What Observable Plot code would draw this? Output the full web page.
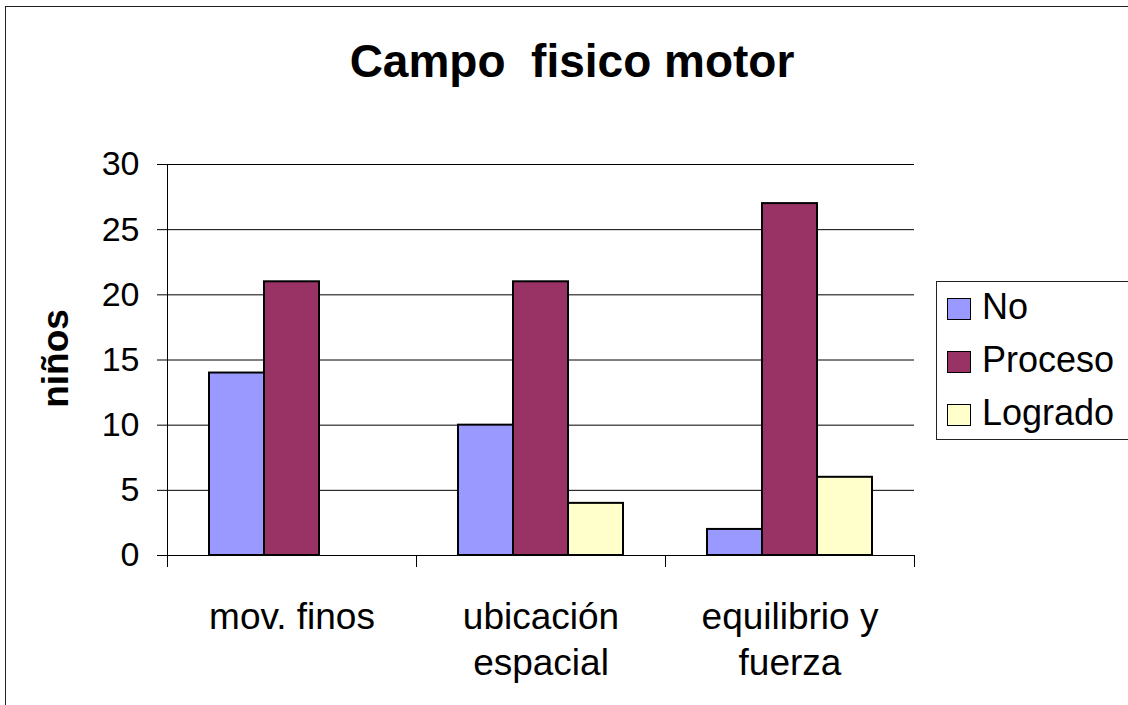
<!DOCTYPE html>
<html>
<head>
<meta charset="utf-8">
<script src="https://cdn.jsdelivr.net/npm/d3@7"></script>
<script src="https://cdn.jsdelivr.net/npm/@observablehq/plot@0.6"></script>
<style>
  html, body { margin: 0; padding: 0; background: #fff; }
  #wrap { position: relative; width: 1128px; height: 705px; overflow: hidden; background: #fff;
          font-family: "Liberation Sans", Arial, sans-serif; color: #000; }
  #border { position: absolute; left: 5px; top: 6px; width: 1200px; height: 800px;
            border-left: 1.5px solid #222; border-top: 1.5px solid #222; }
  #chart { position: absolute; left: 0; top: 0; }
  #title { position: absolute; left: 0; width: 1144px; top: 38px; text-align: center;
           font-weight: bold; font-size: 46px; line-height: 46px; white-space: pre; }
  #ylabel { position: absolute; left: -45px; top: 340px; width: 200px; height: 37px; text-align: center;
            font-weight: bold; font-size: 37px; line-height: 37px; transform: rotate(-90deg); }
  #legend { position: absolute; left: 936px; top: 281px; width: 220px; height: 157px;
            border: 1.5px solid #222; background: #fff; }
  .sw { position: absolute; left: 10px; width: 22px; height: 20px; border: 1.5px solid #000; }
  .lt { position: absolute; left: 45px; font-size: 36px; line-height: 36px; white-space: nowrap; }
</style>
</head>
<body>
<div id="wrap">
  <div id="border"></div>
  <div id="chart"></div>
  <div id="title"></div>
  <div id="ylabel"></div>
  <div id="legend"></div>
</div>
<script>
// ---- data ----
const title = "Campo  fisico motor";
const yLabel = "niños";
const categories = ["mov. finos", "ubicación\nespacial", "equilibrio y\nfuerza"];
const series = ["No", "Proceso", "Logrado"];
const noValues = [14, 10, 2];
const procesoValues = [21, 21, 27];
const logradoValues = [0, 4, 6];
const seriesColors = ["#9999FF", "#993366", "#FFFFCC"];
const yTicks = [0, 5, 10, 15, 20, 25, 30];

const valuesBySeries = [noValues, procesoValues, logradoValues];
const rows = [];
categories.forEach((c, i) => {
  series.forEach((s, j) => rows.push({category: c, series: s, value: valuesBySeries[j][i]}));
});

const W = 1128, H = 705;
const mL = 167, mR = 214, mT = 164, mB = 150;
const innerH = H - mT - mB;

const chart = Plot.plot({
  width: W, height: H,
  marginLeft: mL, marginRight: mR, marginTop: mT, marginBottom: mB,
  style: {fontFamily: "Liberation Sans, Arial, sans-serif", color: "#000", background: "transparent"},
  fx: {domain: categories, padding: 0, label: null},
  x: {domain: series, paddingInner: 0, paddingOuter: 0.743, axis: null},
  y: {domain: [0, 30], label: null},
  color: {domain: series, range: seriesColors},
  marks: [
    Plot.ruleY(yTicks.filter(t => t > 0), {stroke: "#000", strokeWidth: 1}),
    Plot.barY(rows, {fx: "category", x: "series", y: "value", fill: "series",
                     stroke: "#000", strokeWidth: 2, filter: d => d.value > 0}),
    Plot.ruleY([0], {stroke: "#000", strokeWidth: 1}),
    // y axis line (first facet) extending down to category tick length
    Plot.frame({anchor: "left", facetAnchor: "left", insetBottom: -11, stroke: "#000", strokeWidth: 1}),
    // category boundary ticks
    Plot.frame({anchor: "left", insetTop: innerH, insetBottom: -11, stroke: "#000", strokeWidth: 1}),
    Plot.frame({anchor: "right", facetAnchor: "right", insetTop: innerH, insetBottom: -11, stroke: "#000", strokeWidth: 1}),
    Plot.axisY({ticks: yTicks, tickSize: 10, tickPadding: 18, fontSize: 34, label: null, stroke: "#000"}),
    Plot.axisFx({anchor: "bottom", tickSize: 0, tickPadding: 41, fontSize: 37, lineHeight: 1.24, label: null})
  ]
});
document.getElementById("chart").appendChild(chart);

document.getElementById("title").textContent = title;
document.getElementById("ylabel").textContent = yLabel;

const legend = document.getElementById("legend");
const rowTops = [16, 69, 122];
series.forEach((s, i) => {
  const sw = document.createElement("div");
  sw.className = "sw";
  sw.style.top = rowTops[i] + "px";
  sw.style.background = seriesColors[i];
  legend.appendChild(sw);
  const t = document.createElement("div");
  t.className = "lt";
  t.style.top = (rowTops[i] - 9) + "px";
  t.textContent = s;
  legend.appendChild(t);
});
</script>
</body>
</html>
